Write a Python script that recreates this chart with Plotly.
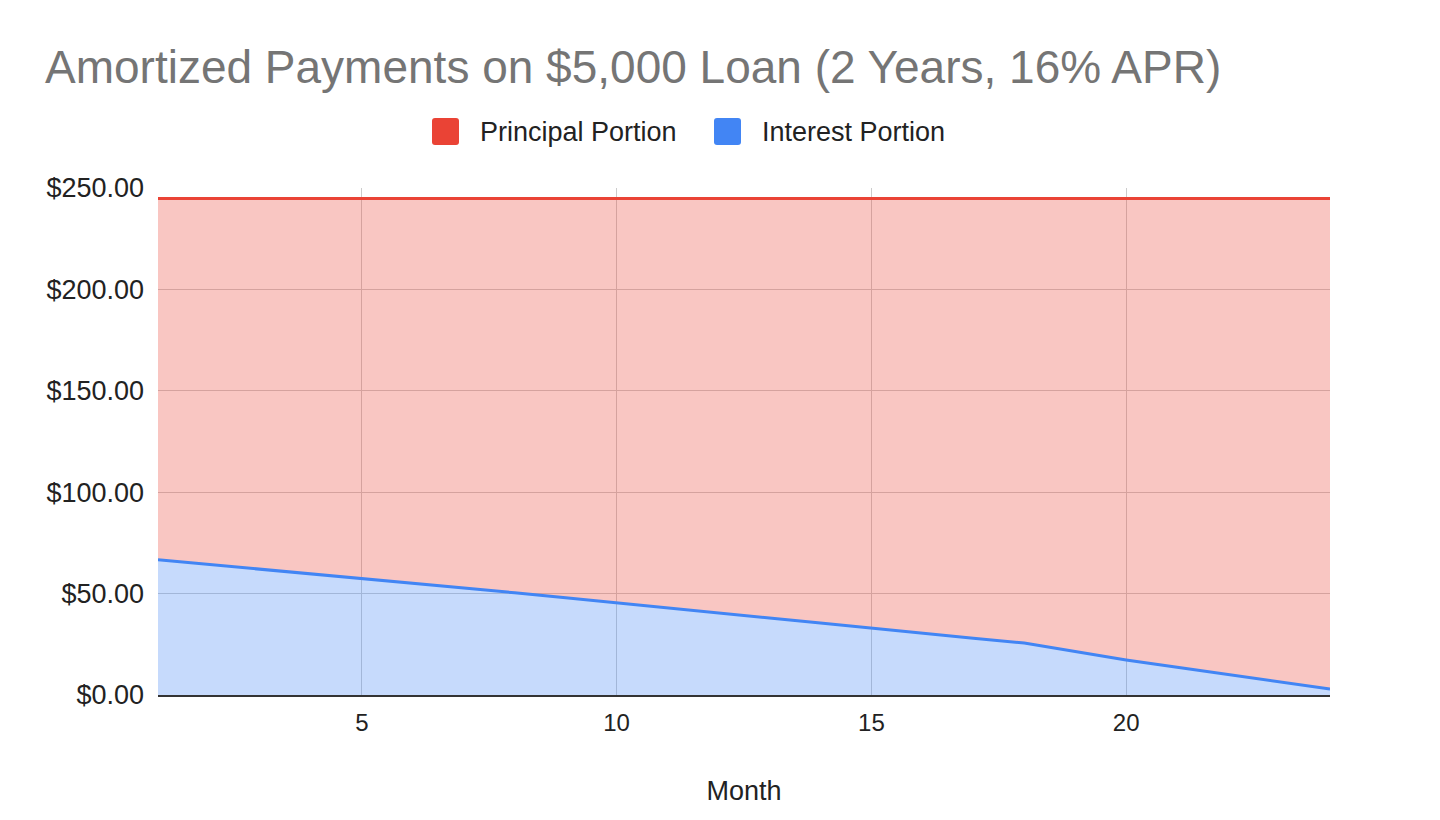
import plotly.graph_objects as go

# data
months = list(range(1, 25))
interest = [66.7, 64.4, 62.2, 59.9, 57.6, 55.2, 52.8, 50.4, 47.9, 45.5, 43.0, 40.5,
            38.0, 35.5, 32.9, 30.4, 28.0, 25.6, 21.4, 17.3, 13.7, 10.1, 6.5, 2.9]
principal = [178.1, 180.4, 182.6, 184.9, 187.2, 189.6, 192.0, 194.4, 196.9, 199.3, 201.8, 204.3,
             206.8, 209.3, 211.9, 214.4, 216.8, 219.2, 223.4, 227.5, 231.1, 234.7, 238.3, 241.9]
y_ticks = [0, 50, 100, 150, 200, 250]
x_ticks = [5, 10, 15, 20]

RED = "#ea4335"
BLUE = "#4285f4"

W, H = 1440, 820
OFF = 8  # page body margin
# plot area in page pixels
L, R, T, B = 158 - OFF, 1330 - OFF, 188 - OFF, 695 - OFF


def px(x):
    return (x - OFF - L) / (R - L)


def py(y):
    return (B - (y - OFF)) / (B - T)


def rounded_square(x0, y0, size, r):
    # path in paper coords, corners rounded by r pixels
    ax, bx = px(x0), px(x0 + size)
    ay, by = py(y0), py(y0 + size)
    rx = r / (R - L)
    ry = r / (B - T)
    return (f"M {ax + rx},{ay} L {bx - rx},{ay} Q {bx},{ay} {bx},{ay - ry} "
            f"L {bx},{by + ry} Q {bx},{by} {bx - rx},{by} L {ax + rx},{by} "
            f"Q {ax},{by} {ax},{by + ry} L {ax},{ay - ry} Q {ax},{ay} {ax + rx},{ay} Z")


fig = go.Figure()
fig.add_trace(go.Scatter(x=months, y=interest, name="Interest Portion", mode="lines",
                         stackgroup="one", line=dict(color=BLUE, width=3),
                         fillcolor="rgba(66,133,244,0.30)", showlegend=False))
fig.add_trace(go.Scatter(x=months, y=principal, name="Principal Portion", mode="lines",
                         stackgroup="one", line=dict(color=RED, width=3),
                         fillcolor="rgba(234,67,53,0.30)", showlegend=False))

# legend drawn by hand to get the big rounded squares
legend = [("Principal Portion", RED, 432, 478), ("Interest Portion", BLUE, 714, 760)]
for label, col, sq_x, txt_x in legend:
    fig.add_shape(type="path", xref="paper", yref="paper",
                  path=rounded_square(sq_x, 118, 27, 3),
                  fillcolor=col, line=dict(color=col, width=0))
    fig.add_annotation(text=label, xref="paper", yref="paper", x=px(txt_x), y=py(132),
                       xanchor="left", yanchor="middle", showarrow=False,
                       font=dict(size=27, color="#222222"))

fig.update_layout(
    width=W, height=H,
    paper_bgcolor="white", plot_bgcolor="white",
    font=dict(family="Arial, Liberation Sans, sans-serif", color="#222222"),
    margin=dict(l=L, r=W - R, t=T, b=H - B),
    title=dict(text="Amortized Payments on $5,000 Loan (2 Years, 16% APR)",
               xref="container", yref="container", x=(45 - OFF) / W, y=1 - (67 - OFF) / H,
               xanchor="left", yanchor="middle",
               font=dict(size=46, color="#757575")),
    showlegend=False,
)
fig.update_xaxes(range=[1, 24], tickvals=x_ticks, showgrid=True, gridcolor="#cccccc",
                 gridwidth=1, zeroline=False, showline=True, linecolor="#333333",
                 linewidth=2, ticks="", ticklabelstandoff=5,
                 tickfont=dict(size=24, color="#222222"),
                 title=dict(text="Month", font=dict(size=27, color="#222222"), standoff=46))
fig.update_yaxes(range=[0, 250], tickvals=y_ticks, tickformat="$,.2f", showgrid=True,
                 gridcolor="#cccccc", gridwidth=1, zeroline=False, ticks="",
                 ticklabelstandoff=13, tickfont=dict(size=27, color="#222222"))

fig.write_html("out.html")
